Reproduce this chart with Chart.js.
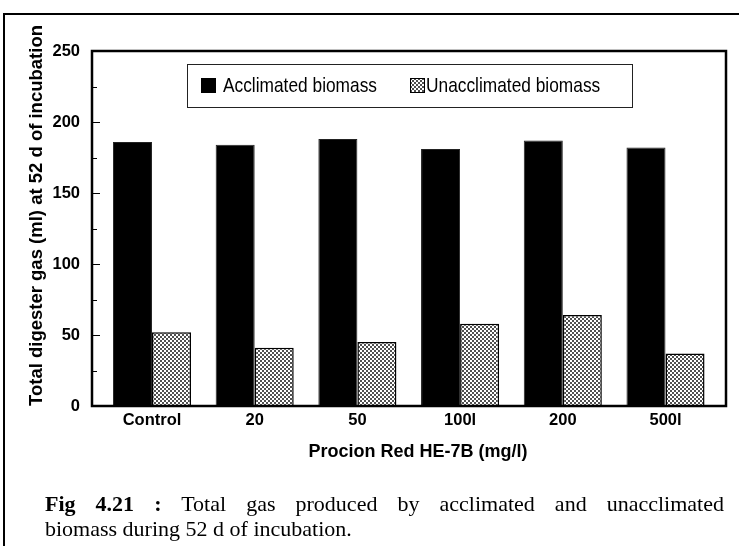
<!DOCTYPE html>
<html>
<head>
<meta charset="utf-8">
<title>Total digester gas</title>
<script src="https://cdn.jsdelivr.net/npm/chart.js@4"></script>
<style>
  html, body { margin: 0; padding: 0; background: #fff; }
  #wrap { position: relative; width: 739px; height: 546px; overflow: hidden; }
  #frame { position: absolute; left: 3px; top: 13px; right: -10px; bottom: -10px;
           border-left: 2px solid #000; border-top: 2px solid #000; }
  #c { position: absolute; left: 0; top: 0; }
  #caption { position: absolute; left: 45px; top: 491px; width: 679px;
             font-family: "Liberation Serif", "Times New Roman", serif; font-size: 22px;
             line-height: 25px; color: #000; }
  #caption .l1 { text-align: justify; text-align-last: justify; white-space: nowrap; }
</style>
</head>
<body>
<div id="wrap">
  <div id="frame"></div>
  <canvas id="c" width="739" height="546"></canvas>
  <div id="caption">
    <div class="l1"><b>Fig 4.21 :</b> Total gas produced by acclimated and unacclimated</div>
    <div>biomass during 52 d of incubation.</div>
  </div>
</div>
<script>
// Dye concentrations on the x axis
const categories = ['Control', '20', '50', '100l', '200', '500l'];
// Total digester gas (ml) after 52 d
const acclimated = [186, 184, 188, 181, 187, 182];
const unacclimated = [52, 41, 45, 58, 64, 37];
const seriesNames = ['Acclimated biomass', 'Unacclimated biomass'];
// Labelled y ticks and the finer inner tick marks
const yTicks = [0, 50, 100, 150, 200, 250];
const yMinorStep = 25;
const xTitle = 'Procion Red HE-7B (mg/l)';
const yTitle = 'Total digester gas (ml) at 52 d of incubation';

const canvas = document.getElementById('c');
const ctx = canvas.getContext('2d');

// Small checker tile used as the fill of the unacclimated bars
function makeChecker() {
  const t = document.createElement('canvas');
  t.width = 4; t.height = 4;
  const g = t.getContext('2d');
  g.fillStyle = '#fff';
  g.fillRect(0, 0, 4, 4);
  g.fillStyle = '#505050';
  g.fillRect(0, 0, 2, 2);
  g.fillRect(2, 2, 2, 2);
  return ctx.createPattern(t, 'repeat');
}
const checker = makeChecker();

const sans = 'Liberation Sans, Arial, sans-serif';
const tickFont = { family: sans, weight: 'bold', size: 16.5 };

// Frame around the plot area, inward y tick marks and the two axis titles
const framePlugin = {
  id: 'frame',
  afterDatasetsDraw(chart) {
    const { ctx, chartArea: a, scales: { y } } = chart;
    ctx.save();
    ctx.strokeStyle = '#000';
    ctx.lineWidth = 1;
    for (let v = 0; v <= 250; v += yMinorStep) {
      const py = Math.round(y.getPixelForValue(v)) + 0.5;
      const len = v % 50 === 0 ? 8 : 5;
      ctx.beginPath();
      ctx.moveTo(a.left, py);
      ctx.lineTo(a.left + len, py);
      ctx.stroke();
    }
    ctx.lineWidth = 2.5;
    ctx.strokeRect(a.left, a.top, a.right - a.left, a.bottom - a.top);

    ctx.fillStyle = '#000';
    ctx.font = 'bold 18px ' + sans;
    ctx.textAlign = 'center';
    ctx.textBaseline = 'middle';
    ctx.fillText(xTitle, (a.left + a.right) / 2 + 9, a.bottom + 46);
    ctx.translate(a.left - 55, (a.top + a.bottom) / 2 - 13);
    ctx.rotate(-Math.PI / 2);
    ctx.font = 'bold 18.5px ' + sans;
    ctx.fillText(yTitle, 0, 0);
    ctx.restore();
  }
};

// Boxed legend inside the plot area, in a condensed face
const legendPlugin = {
  id: 'boxLegend',
  afterDraw(chart) {
    const { ctx, chartArea: a } = chart;
    const bx = a.left + 95, by = a.top + 13, bw = 445, bh = 43;
    ctx.save();
    ctx.fillStyle = '#fff';
    ctx.fillRect(bx, by, bw, bh);
    ctx.strokeStyle = '#222';
    ctx.lineWidth = 1;
    ctx.strokeRect(bx + 0.5, by + 0.5, bw, bh);
    ctx.font = '21px ' + sans;
    ctx.textBaseline = 'middle';
    const squeeze = 154 / ctx.measureText(chart.data.datasets[0].label).width;
    const cy = by + bh / 2;
    const items = [{ box: bx + 14, text: bx + 36 }, { box: bx + 223, text: bx + 239 }];
    chart.data.datasets.forEach((ds, i) => {
      const it = items[i];
      ctx.fillStyle = ds.backgroundColor;
      ctx.fillRect(it.box, cy - 7.5, 15, 15);
      ctx.strokeStyle = '#000';
      ctx.strokeRect(it.box + 0.5, cy - 7, 14, 14);
      ctx.save();
      ctx.translate(it.text, cy + 1);
      ctx.scale(squeeze, 1);
      ctx.fillStyle = '#000';
      ctx.fillText(ds.label, 0, 0);
      ctx.restore();
    });
    ctx.restore();
  }
};

new Chart(ctx, {
  type: 'bar',
  data: {
    datasets: [
      {
        label: seriesNames[0],
        data: categories.map((c, i) => ({ x: i, y: acclimated[i] })),
        backgroundColor: '#000',
        borderColor: '#222',
        borderWidth: 1
      },
      {
        label: seriesNames[1],
        data: categories.map((c, i) => ({ x: i, y: unacclimated[i] })),
        backgroundColor: checker,
        borderColor: '#000',
        borderWidth: 1.5
      }
    ]
  },
  options: {
    responsive: false,
    animation: false,
    events: [],
    layout: { padding: { left: 0, right: 13, top: 51, bottom: 80 } },
    datasets: { bar: { categoryPercentage: 0.76, barPercentage: 1 } },
    plugins: { legend: { display: false }, tooltip: { enabled: false } },
    scales: {
      x: {
        type: 'linear',
        offset: false,
        min: -0.584,
        max: 5.589,
        afterBuildTicks: s => { s.ticks = categories.map((c, i) => ({ value: i })); },
        afterFit: s => { s.height = 60; },
        ticks: {
          callback: v => categories[v],
          font: tickFont, color: '#000', padding: 5,
          maxRotation: 0, autoSkip: false
        },
        grid: { display: false, drawTicks: false },
        border: { display: false }
      },
      y: {
        min: 0,
        max: 250,
        afterBuildTicks: s => { s.ticks = yTicks.map(v => ({ value: v })); },
        afterFit: s => { s.width = 92; },
        ticks: { font: tickFont, color: '#000', padding: 12 },
        grid: { display: false, drawTicks: false },
        border: { display: false }
      }
    }
  },
  plugins: [framePlugin, legendPlugin]
});
</script>
</body>
</html>
